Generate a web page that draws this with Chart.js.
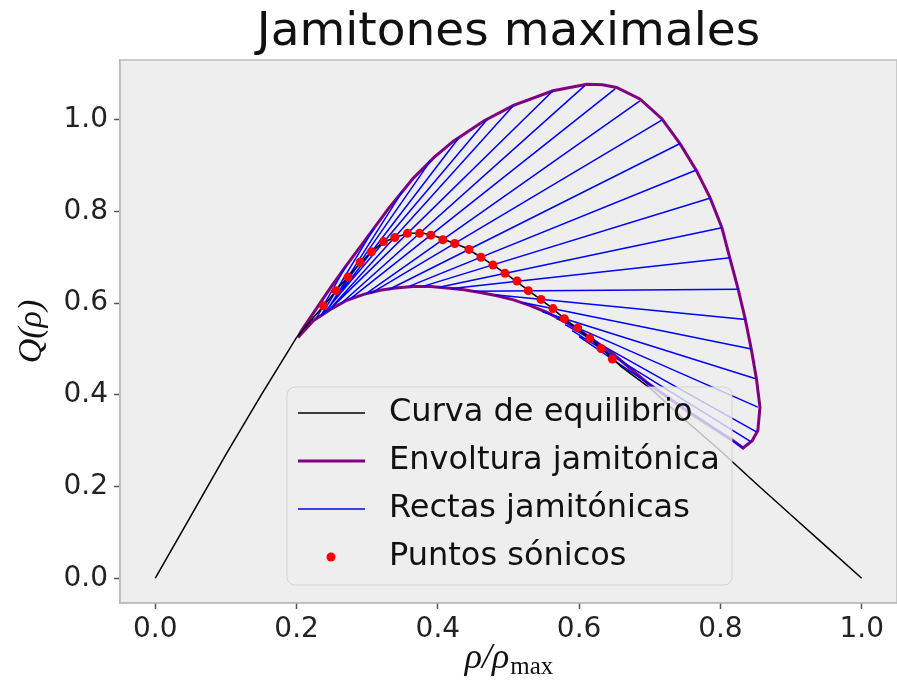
<!DOCTYPE html>
<html>
<head>
<meta charset="utf-8">
<script src="https://cdn.jsdelivr.net/npm/chart.js@4.4.1/dist/chart.umd.min.js"></script>
<style>
  html, body { margin: 0; padding: 0; overflow: hidden; background: #ffffff; }
  #caja { width: 897px; height: 687px; }
</style>
</head>
<body>
<div id="caja"><canvas id="grafico"></canvas></div>
<script>
// curva de equilibrio Q(rho)
const eqRho = [0, 0.05, 0.10, 0.15, 0.20, 0.22, 0.24, 0.26, 0.28, 0.30, 0.32, 0.34, 0.36, 0.38, 0.40, 0.42, 0.44, 0.46, 0.48, 0.50, 0.52, 0.54, 0.56, 0.58, 0.60, 0.62, 0.64, 0.66, 0.70, 0.75, 0.80, 0.85, 0.90, 0.95, 1.00];
const eqQ = [0, 0.135, 0.27, 0.40, 0.525, 0.562, 0.597, 0.635, 0.670, 0.703, 0.730, 0.744, 0.752, 0.752, 0.744, 0.732, 0.720, 0.701, 0.681, 0.660, 0.637, 0.614, 0.591, 0.565, 0.542, 0.516, 0.489, 0.461, 0.415, 0.345, 0.278, 0.207, 0.138, 0.069, 0];

// envoltura (rama inferior, esquina y rama superior)
const envRho = [0.202, 0.224, 0.250, 0.271, 0.295, 0.318, 0.340, 0.365, 0.390, 0.413, 0.437, 0.460, 0.484, 0.507, 0.530, 0.554, 0.578, 0.601, 0.648, 0.695, 0.757, 0.818, 0.832, 0.845, 0.853, 0.856, 0.851, 0.844, 0.835, 0.825, 0.813, 0.802, 0.785, 0.766, 0.743, 0.717, 0.686, 0.653, 0.633, 0.611, 0.563, 0.507, 0.465, 0.422, 0.395, 0.365, 0.330, 0.295, 0.270, 0.250, 0.228, 0.207, 0.202];
const envQ = [0.525, 0.562, 0.588, 0.606, 0.619, 0.628, 0.633, 0.636, 0.636, 0.633, 0.629, 0.623, 0.616, 0.607, 0.595, 0.580, 0.561, 0.540, 0.489, 0.428, 0.360, 0.300, 0.284, 0.300, 0.322, 0.373, 0.435, 0.497, 0.566, 0.631, 0.700, 0.765, 0.831, 0.889, 0.947, 1.002, 1.045, 1.070, 1.076, 1.077, 1.063, 1.031, 0.997, 0.953, 0.918, 0.872, 0.806, 0.733, 0.681, 0.638, 0.588, 0.540, 0.525];

// rectas jamitonicas: extremo inicial y final
const lineStartRho = [0.228, 0.235, 0.242, 0.243, 0.240, 0.235, 0.245, 0.249, 0.263, 0.276, 0.298, 0.305, 0.330, 0.360, 0.380, 0.400, 0.420, 0.450, 0.480, 0.520, 0.548, 0.568, 0.580, 0.590, 0.600];
const lineStartQ = [0.567, 0.574, 0.582, 0.585, 0.579, 0.572, 0.583, 0.589, 0.599, 0.609, 0.620, 0.621, 0.629, 0.637, 0.637, 0.634, 0.632, 0.626, 0.618, 0.601, 0.581, 0.566, 0.553, 0.540, 0.527];
const lineEndRho = [0.270, 0.310, 0.350, 0.390, 0.430, 0.470, 0.507, 0.563, 0.608, 0.651, 0.686, 0.717, 0.743, 0.766, 0.786, 0.802, 0.814, 0.826, 0.836, 0.844, 0.850, 0.853, 0.851, 0.843, 0.832];
const lineEndQ = [0.681, 0.764, 0.844, 0.911, 0.961, 1.001, 1.031, 1.063, 1.074, 1.067, 1.041, 0.999, 0.948, 0.890, 0.829, 0.764, 0.699, 0.630, 0.564, 0.500, 0.435, 0.373, 0.319, 0.298, 0.284];

// puntos sonicos
const sonicRho = [0.238, 0.256, 0.273, 0.290, 0.306, 0.323, 0.339, 0.357, 0.374, 0.390, 0.407, 0.424, 0.444, 0.461, 0.478, 0.495, 0.512, 0.528, 0.546, 0.563, 0.579, 0.598, 0.615, 0.631, 0.647];
const sonicQ = [0.594, 0.627, 0.657, 0.689, 0.712, 0.734, 0.743, 0.752, 0.752, 0.748, 0.738, 0.730, 0.717, 0.700, 0.683, 0.665, 0.648, 0.627, 0.608, 0.588, 0.566, 0.546, 0.523, 0.501, 0.478];

const xTicks = [0, 0.2, 0.4, 0.6, 0.8, 1.0];
const yTicks = [0, 0.2, 0.4, 0.6, 0.8, 1.0];

const toPoints = (xs, ys) => xs.map((x, i) => ({ x: x, y: ys[i] }));

const rectas = [];
lineStartRho.forEach((r, i) => {
    rectas.push({ x: r, y: lineStartQ[i] });
    rectas.push({ x: lineEndRho[i], y: lineEndQ[i] });
    rectas.push({ x: lineEndRho[i], y: null });
});

const fondo = {
    id: 'fondo',
    beforeDraw(chart) {
        const { ctx, chartArea: a } = chart;
        ctx.save();
        ctx.fillStyle = '#eeeeee';
        ctx.fillRect(a.left, a.top, a.right - a.left, a.bottom - a.top);
        ctx.strokeStyle = '#bcbcbc';
        ctx.lineWidth = 1.5;
        ctx.strokeRect(a.left, a.top, a.right - a.left, a.bottom - a.top);
        ctx.restore();
    },
    afterDraw(chart) {
        const { ctx, chartArea: a } = chart;
        const cx = (a.left + a.right) / 2;
        ctx.save();

        // titulo
        ctx.fillStyle = '#111';
        ctx.font = '47px "DejaVu Sans"';
        ctx.textAlign = 'center';
        ctx.textBaseline = 'middle';
        ctx.fillText('Jamitones maximales', cx, 33);

        // etiqueta eje y
        ctx.save();
        ctx.translate(32, (a.top + a.bottom) / 2);
        ctx.rotate(-Math.PI / 2);
        ctx.font = 'italic 34px "Liberation Serif"';
        ctx.fillText('Q(ρ)', 0, 0);
        ctx.restore();

        // etiqueta eje x con subindice
        ctx.textAlign = 'left';
        ctx.textBaseline = 'alphabetic';
        ctx.font = 'italic 36px "Liberation Serif"';
        const t1 = 'ρ/ρ';
        const w1 = ctx.measureText(t1).width;
        ctx.font = '25px "Liberation Serif"';
        const w2 = ctx.measureText('max').width;
        const x0 = cx - (w1 + w2) / 2;
        ctx.font = 'italic 36px "Liberation Serif"';
        ctx.fillText(t1, x0, 668);
        ctx.font = '25px "Liberation Serif"';
        ctx.fillText('max', x0 + w1 + 1, 674);

        // leyenda
        const bx = 287, by = 387, bw = 445, bh = 198, rad = 8;
        ctx.beginPath();
        ctx.moveTo(bx + rad, by);
        ctx.arcTo(bx + bw, by, bx + bw, by + bh, rad);
        ctx.arcTo(bx + bw, by + bh, bx, by + bh, rad);
        ctx.arcTo(bx, by + bh, bx, by, rad);
        ctx.arcTo(bx, by, bx + bw, by, rad);
        ctx.closePath();
        ctx.fillStyle = 'rgba(238,238,238,0.8)';
        ctx.fill();
        ctx.strokeStyle = 'rgba(204,204,204,0.8)';
        ctx.lineWidth = 1;
        ctx.stroke();

        const rows = [413, 461, 509, 557];
        chart.data.datasets.forEach((ds, i) => {
            const y = rows[i];
            if (ds.showLine) {
                ctx.beginPath();
                ctx.moveTo(298, y);
                ctx.lineTo(365, y);
                ctx.strokeStyle = ds.borderColor;
                ctx.lineWidth = ds.borderWidth;
                ctx.stroke();
            } else {
                ctx.beginPath();
                ctx.arc(331, y, ds.pointRadius, 0, Math.PI * 2);
                ctx.fillStyle = ds.backgroundColor;
                ctx.fill();
            }
            ctx.fillStyle = '#111';
            ctx.font = '32px "DejaVu Sans"';
            ctx.textAlign = 'left';
            ctx.textBaseline = 'middle';
            ctx.fillText(ds.label, 389, y);
        });
        ctx.restore();
    }
};

const tickFont = { family: 'DejaVu Sans', size: 28 };

new Chart(document.getElementById('grafico'), {
    type: 'scatter',
    data: {
        datasets: [
            {
                label: 'Curva de equilibrio',
                data: toPoints(eqRho, eqQ),
                showLine: true,
                borderColor: '#000000',
                borderWidth: 1.5,
                pointRadius: 0,
                order: 1
            },
            {
                label: 'Envoltura jamitónica',
                data: toPoints(envRho, envQ),
                showLine: true,
                borderColor: '#800080',
                borderWidth: 3,
                pointRadius: 0,
                order: 3
            },
            {
                label: 'Rectas jamitónicas',
                data: rectas,
                showLine: true,
                spanGaps: false,
                borderColor: '#0000ff',
                borderWidth: 1.5,
                pointRadius: 0,
                order: 2
            },
            {
                label: 'Puntos sónicos',
                data: toPoints(sonicRho, sonicQ),
                showLine: false,
                backgroundColor: '#ff0000',
                borderWidth: 0,
                pointRadius: 4.5,
                order: 0
            }
        ]
    },
    options: {
        responsive: true,
        maintainAspectRatio: false,
        animation: false,
        layout: { autoPadding: false, padding: { top: 60, left: 0, right: 0, bottom: 0 } },
        plugins: {
            legend: { display: false },
            tooltip: { enabled: false },
            title: { display: false }
        },
        scales: {
            x: {
                type: 'linear',
                min: -0.05,
                max: 1.05,
                afterFit: s => { s.height = 84; s.paddingLeft = 0; s.paddingRight = 0; },
                afterBuildTicks: s => { s.ticks = xTicks.map(v => ({ value: v })); },
                ticks: {
                    callback: v => v.toFixed(1),
                    font: tickFont,
                    color: '#222',
                    padding: 4,
                    maxRotation: 0
                },
                grid: { display: true, drawOnChartArea: false, drawTicks: true, tickLength: 6, tickColor: '#555', tickWidth: 1.5 },
                border: { display: true, color: '#bcbcbc', width: 1.5 }
            },
            y: {
                type: 'linear',
                min: -0.054,
                max: 1.13,
                afterFit: s => { s.width = 120; },
                afterBuildTicks: s => { s.ticks = yTicks.map(v => ({ value: v })); },
                ticks: {
                    callback: v => v.toFixed(1),
                    font: tickFont,
                    color: '#222',
                    padding: 6
                },
                grid: { display: true, drawOnChartArea: false, drawTicks: true, tickLength: 6, tickColor: '#555', tickWidth: 1.5 },
                border: { display: true, color: '#bcbcbc', width: 1.5 }
            }
        }
    },
    plugins: [fondo]
});
</script>
</body>
</html>
